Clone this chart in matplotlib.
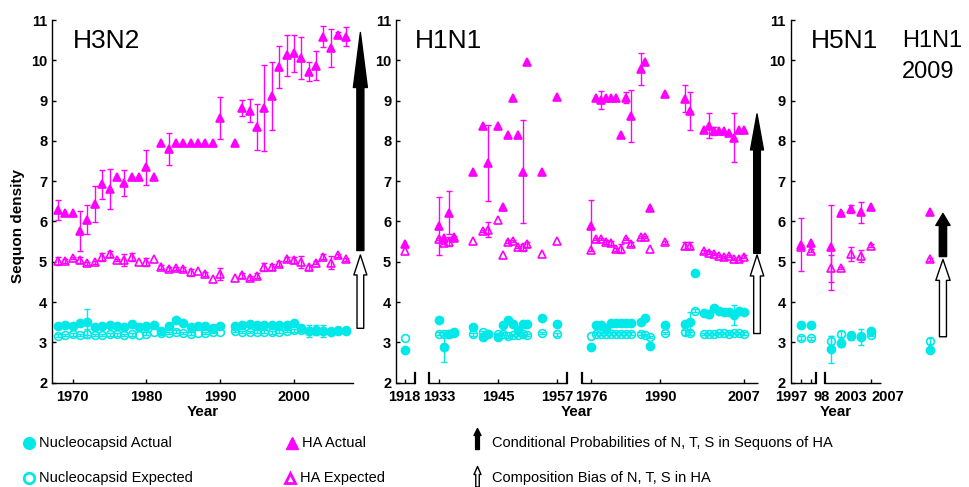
import numpy as np
import matplotlib
matplotlib.use('Agg')
import matplotlib.pyplot as plt
from matplotlib.patches import FancyArrowPatch, ArrowStyle

plt.rcParams['font.family'] = ['Liberation Sans', 'DejaVu Sans']

CYAN = '#00E8E8'
MAGENTA = '#FF00FF'

# ---------------- H3N2 ----------------
h3_years = [1968, 1969, 1970, 1971, 1972, 1973, 1974, 1975, 1976, 1977, 1978, 1979,
            1980, 1981, 1982, 1983, 1984, 1985, 1986, 1987, 1988, 1989, 1990,
            1992, 1993, 1994, 1995, 1996, 1997, 1998, 1999, 2000, 2001, 2002, 2003,
            2004, 2005, 2006, 2007]
h3_ha_act = [6.28, 6.20, 6.20, 5.76, 6.04, 6.43, 6.93, 6.80, 7.10, 6.96, 7.10, 7.10,
             7.34, 7.10, 7.96, 7.80, 7.96, 7.96, 7.96, 7.96, 7.96, 7.96, 8.56,
             7.96, 8.81, 8.75, 8.35, 8.82, 9.12, 9.84, 10.13, 10.17, 10.05, 9.72, 9.87,
             10.59, 10.30, 10.64, 10.59]
h3_ha_act_err = [0.25, 0, 0, 0.50, 0.36, 0.45, 0.36, 0.50, 0, 0.33, 0, 0,
                 0.44, 0, 0, 0.40, 0, 0, 0, 0, 0, 0, 0.52,
                 0, 0.20, 0.29, 0.57, 1.07, 0.85, 0.52, 0.51, 0.47, 0.52, 0.24, 0.36,
                 0.26, 0.47, 0.05, 0.24]
h3_ha_exp = [5.02, 5.02, 5.10, 5.04, 4.96, 4.99, 5.13, 5.19, 5.04, 5.04, 5.13, 4.99,
             5.00, 5.06, 4.88, 4.82, 4.84, 4.81, 4.74, 4.76, 4.70, 4.58, 4.70,
             4.59, 4.67, 4.61, 4.66, 4.88, 4.87, 4.95, 5.06, 5.04, 5.00, 4.86, 4.98,
             5.13, 4.98, 5.16, 5.06]
h3_ha_exp_err = [0.10, 0.05, 0.03, 0.08, 0.04, 0.04, 0.10, 0.08, 0.03, 0.15, 0.10, 0,
                 0.10, 0, 0.05, 0.05, 0.04, 0.05, 0.08, 0, 0.04, 0, 0.15,
                 0, 0.06, 0.05, 0.06, 0.10, 0.08, 0.06, 0.05, 0.08, 0.15, 0.06, 0.04,
                 0.06, 0.17, 0.04, 0.03]
h3_nuc_act = [3.41, 3.43, 3.41, 3.47, 3.51, 3.39, 3.41, 3.42, 3.41, 3.37, 3.46, 3.37,
              3.41, 3.42, 3.29, 3.41, 3.56, 3.47, 3.39, 3.41, 3.41, 3.35, 3.41,
              3.41, 3.42, 3.45, 3.43, 3.42, 3.43, 3.42, 3.42, 3.49, 3.35, 3.28, 3.31,
              3.29, 3.27, 3.29, 3.28]
h3_nuc_act_err = [0.05, 0.03, 0.03, 0.04, 0.33, 0.03, 0.03, 0.03, 0.03, 0.06, 0.03, 0.03,
                  0.03, 0.03, 0.03, 0.03, 0.03, 0.03, 0.03, 0.03, 0.03, 0.03, 0.03,
                  0.03, 0.03, 0.03, 0.03, 0.03, 0.03, 0.03, 0.03, 0.03, 0.06, 0.15, 0.12,
                  0.15, 0.03, 0.03, 0.04]
h3_nuc_exp = [3.17, 3.18, 3.20, 3.19, 3.22, 3.18, 3.18, 3.20, 3.20, 3.18, 3.20, 3.18,
              3.22, 3.25, 3.24, 3.23, 3.27, 3.24, 3.22, 3.24, 3.24, 3.26, 3.25,
              3.28, 3.26, 3.26, 3.27, 3.27, 3.25, 3.27, 3.28, 3.30, 3.30, 3.29, 3.28,
              3.29, 3.28, 3.30, 3.30]
h3_nuc_exp_err = [0.03, 0.03, 0.03, 0.03, 0.12, 0.03, 0.03, 0.03, 0.03, 0.03, 0.03, 0,
                  0.03, 0, 0.03, 0.03, 0.03, 0.03, 0.03, 0, 0.03, 0.03, 0,
                  0.03, 0.03, 0.03, 0.03, 0.03, 0.03, 0.03, 0.03, 0.03, 0.03, 0.03, 0.03,
                  0.03, 0.03, 0.03, 0.03]

# ---------------- H1N1 ----------------
h1_years = [1918, 1933, 1934, 1935, 1936, 1940, 1942, 1943, 1945, 1946, 1947, 1948,
            1949, 1950, 1951, 1954, 1957,
            1976, 1977, 1978, 1979, 1980, 1981, 1982, 1983, 1984, 1986, 1987, 1988,
            1991, 1995, 1996, 1997, 1999, 2000, 2001, 2002, 2003, 2004, 2005, 2006, 2007]
nan = np.nan
h1_ha_act = [5.43, 5.89, 5.60, 6.22, 5.62, 7.24, 8.38, 7.46, 8.38, 6.35, 8.15, 9.06,
             8.15, 7.24, 9.95, 7.24, 9.08,
             5.90, 9.06, 9.02, 9.06, 9.06, 9.06, 8.15, 9.07, 8.62, 9.78, 9.96, 6.33,
             9.16, 9.05, 8.74, nan, 8.27, 8.38, 8.24, 8.25, 8.25, 8.19, 8.08, 8.27, 8.26]
h1_ha_act_err = [0, 0.73, 0, 0.54, 0, 0, 0, 0.94, 0, 0, 0, 0,
                 0, 1.27, 0, 0, 0,
                 0.63, 0, 0.22, 0, 0, 0, 0, 0.14, 0.65, 0.40, 0, 0,
                 0, 0.33, 0.47, 0, 0, 0.30, 0.10, 0, 0, 0, 0.60, 0, 0]
h1_ha_exp = [5.28, 5.57, 5.46, 5.50, 5.60, 5.52, 5.77, 5.80, 6.03, 5.17, 5.50, 5.52,
             5.37, 5.36, 5.43, 5.20, 5.52,
             5.29, 5.56, 5.56, 5.50, 5.47, 5.31, 5.33, 5.56, 5.44, 5.61, 5.61, 5.31,
             5.48, 5.40, 5.40, nan, 5.26, 5.23, 5.19, 5.15, 5.12, 5.15, 5.07, 5.08, 5.13]
h1_ha_exp_err = [0, 0.03, 0.03, 0.12, 0.03, 0, 0.03, 0.18, 0, 0, 0.03, 0.03,
                 0.03, 0.08, 0.06, 0, 0,
                 0, 0.03, 0.03, 0.05, 0.05, 0.03, 0.10, 0.03, 0.05, 0.03, 0.03, 0,
                 0.03, 0.08, 0.08, 0, 0.03, 0.03, 0.03, 0.03, 0.03, 0.03, 0.03, 0.03, 0.03]
h1_nuc_act = [2.81, 3.56, 2.89, 3.22, 3.26, 3.39, 3.14, 3.22, 3.14, 3.42, 3.56, 3.46,
              3.30, 3.46, 3.46, 3.60, 3.46,
              2.88, 3.43, 3.43, 3.35, 3.47, 3.47, 3.47, 3.47, 3.47, 3.51, 3.61, 2.92,
              3.42, 3.45, 3.50, 4.73, 3.72, 3.70, 3.85, 3.77, 3.75, 3.75, 3.69, 3.77, 3.75]
h1_nuc_act_err = [0, 0, 0.37, 0, 0, 0, 0, 0, 0, 0, 0, 0,
                  0, 0, 0, 0, 0,
                  0, 0, 0, 0, 0, 0, 0, 0, 0, 0, 0, 0,
                  0, 0, 0.25, 0, 0, 0.10, 0, 0, 0, 0, 0.25, 0, 0]
h1_nuc_exp = [3.12, 3.22, 3.22, 3.22, 3.24, 3.20, 3.26, 3.22, 3.20, 3.22, 3.15, 3.19,
              3.19, 3.22, 3.19, 3.24, 3.20,
              3.16, 3.22, 3.22, 3.21, 3.22, 3.22, 3.22, 3.22, 3.22, 3.22, 3.18, 3.13,
              3.24, 3.25, 3.24, 3.79, 3.21, 3.21, 3.21, 3.23, 3.23, 3.22, 3.23, 3.23, 3.22]
h1_nuc_exp_err = [0, 0.03, 0.03, 0.03, 0.03, 0.03, 0.03, 0.03, 0.03, 0.03, 0.03, 0.03,
                  0.03, 0.03, 0.03, 0.03, 0.03,
                  0, 0.03, 0.03, 0.03, 0.03, 0.03, 0.03, 0.03, 0.03, 0.03, 0.03, 0.03,
                  0.03, 0.06, 0.06, 0.03, 0.03, 0.03, 0.03, 0.03, 0.03, 0.03, 0.03, 0.03, 0.03]

# ---------------- H5N1 ----------------
h5_years = [1997, 1998, 2003, 2004, 2005, 2006, 2007]
h5_ha_act = [5.42, 5.47, 5.36, 6.20, 6.30, 6.23, 6.37]
h5_ha_act_err = [0.66, 0, 1.05, 0.03, 0.10, 0.26, 0]
h5_ha_exp = [5.36, 5.28, 4.84, 4.84, 5.19, 5.14, 5.40]
h5_ha_exp_err = [0.05, 0.03, 0.33, 0.03, 0.18, 0.15, 0.04]
h5_nuc_act = [3.43, 3.43, 2.83, 2.98, 3.16, 3.14, 3.29]
h5_nuc_act_err = [0.08, 0.03, 0.33, 0.10, 0.10, 0.20, 0.03]
h5_nuc_exp = [3.10, 3.10, 3.04, 3.21, 3.18, 3.17, 3.19]
h5_nuc_exp_err = [0.05, 0.03, 0.12, 0.08, 0.03, 0.03, 0.03]

# ---------------- H1N1 2009 ----------------
p09_years = [2009]
p09_ha_act = [6.23]
p09_ha_exp = [5.06]
p09_nuc_act = [2.81]
p09_nuc_exp = [3.03]
p09_nuc_exp_err = [0.08]

# arrows: (black start, black end, white start, white end)
arrow_h3 = (5.28, 10.69, 3.35, 5.17)
arrow_h1 = (5.21, 8.67, 3.22, 5.17)
arrow_09 = (5.13, 6.20, 3.14, 5.06)

h3_ticks = [1970, 1980, 1990, 2000]
h1_ticks = [1918, 1933, 1945, 1957, 1976, 1990, 2007]
h5_tick_labels = ['1997', '98', '2003', '2007']

# broken-axis scales
H1_YEAR_KNOTS = [1800, 1920.1, 1931.0, 1959.0, 1974.1, 2200]
H1_POS_KNOTS = [1808, 1928.1, 1931.0, 1959.0, 1962.1, 2188]
H5_YEAR_KNOTS = [1900, 1997, 1998, 2003, 2007, 2100]
H5_POS_KNOTS = [-97, 0, 1, 3, 7, 100]


def h1_fwd(x):
    return np.interp(x, H1_YEAR_KNOTS, H1_POS_KNOTS)


def h1_inv(x):
    return np.interp(x, H1_POS_KNOTS, H1_YEAR_KNOTS)


def h5_fwd(x):
    return np.interp(x, H5_YEAR_KNOTS, H5_POS_KNOTS)


def h5_inv(x):
    return np.interp(x, H5_POS_KNOTS, H5_YEAR_KNOTS)


W, H = 970, 487
fig = plt.figure(figsize=(9.7, 4.87), dpi=100)

AX_BOTTOM = (H - 382.7) / H
AX_HEIGHT = (382.7 - 20) / H


def make_axes(left_px, right_px):
    return fig.add_axes([left_px / W, AX_BOTTOM, (right_px - left_px) / W, AX_HEIGHT])


def style(ax, hide_bottom=False):
    for s in ['top', 'right']:
        ax.spines[s].set_visible(False)
    if hide_bottom:
        ax.spines['bottom'].set_visible(False)
    for s in ['left', 'bottom']:
        ax.spines[s].set_linewidth(1.0)
    ax.set_ylim(2, 11)
    ax.set_yticks(range(2, 12))
    ax.tick_params(direction='in', length=3, width=1, labelsize=10.5)
    ax.tick_params(axis='y', pad=3.5)
    ax.tick_params(axis='x', pad=5)
    ax.minorticks_off()
    ax.patch.set_alpha(0)
    plt.setp(ax.get_yticklabels(), fontweight='bold')


def series(ax, x, y, err, marker, filled, color, ms=5.6):
    x = np.asarray(x, float)
    y = np.asarray(y, float)
    err = np.asarray(err, float)
    m = (err > 0) & ~np.isnan(y)
    if m.any():
        ax.errorbar(x[m], y[m], yerr=err[m], fmt='none', ecolor=color,
                    elinewidth=1.0, capsize=2.2, capthick=1.0, zorder=2)
    ax.plot(x, y, ls='none', marker=marker, ms=ms,
            mfc=color if filled else 'none', mec=color, mew=1.2, zorder=3)


def draw_group(ax, years, nuc_exp, nuc_exp_err, nuc_act, nuc_act_err,
               ha_exp, ha_exp_err, ha_act, ha_act_err):
    series(ax, years, nuc_exp, nuc_exp_err, 'o', False, CYAN, 5.6)
    series(ax, years, nuc_act, nuc_act_err, 'o', True, CYAN, 5.8)
    series(ax, years, ha_exp, ha_exp_err, '^', False, MAGENTA, 5.6)
    series(ax, years, ha_act, ha_act_err, '^', True, MAGENTA, 5.8)


def px2pt(v):
    return v * 72.0 / 100.0


def arrow(ax, x, y0, y1, face, hl, hw, tw):
    st = ArrowStyle.Simple(head_length=px2pt(hl), head_width=px2pt(hw),
                           tail_width=px2pt(tw))
    p = FancyArrowPatch((x, y0), (x, y1), arrowstyle=st, mutation_scale=1,
                        fc=face, ec='black', lw=1.0, shrinkA=0, shrinkB=0,
                        clip_on=False, zorder=4)
    ax.add_patch(p)


def broken_bottom(ax, segments, marks):
    tr = ax.get_xaxis_transform()
    for a, b in segments:
        ax.plot([a, b], [0, 0], color='black', lw=1.0, transform=tr,
                clip_on=False, solid_capstyle='butt', zorder=5)
    for m in marks:
        ax.plot([m, m], [0, 0.026], color='black', lw=1.6, transform=tr,
                clip_on=False, zorder=5)


def year_label(ax):
    ax.text(0.5, -0.081, 'Year', transform=ax.transAxes, ha='center', va='center',
            fontsize=11, fontweight='bold')


# ---- H3N2 panel
ax1 = make_axes(52, 353)
ax1.set_xlim(1967.2, 2008.0)
style(ax1)
ax1.set_xticks(h3_ticks)
plt.setp(ax1.get_xticklabels(), fontweight='bold')
draw_group(ax1, h3_years, h3_nuc_exp, h3_nuc_exp_err, h3_nuc_act, h3_nuc_act_err,
           h3_ha_exp, h3_ha_exp_err, h3_ha_act, h3_ha_act_err)
arrow(ax1, 2009.0, arrow_h3[0], arrow_h3[1], 'black', 55, 14, 7)
arrow(ax1, 2009.0, arrow_h3[2], arrow_h3[3], 'white', 20, 13, 6.7)
ax1.text(0.07, 0.942, 'H3N2', transform=ax1.transAxes, fontsize=19, va='center')
year_label(ax1)

# ---- H1N1 panel
ax2 = make_axes(396, 758)
ax2.set_xscale('function', functions=(h1_fwd, h1_inv))
ax2.set_xlim(1916.26, 2009.9)
style(ax2, hide_bottom=True)
ax2.set_xticks(h1_ticks)
ax2.set_xticklabels([str(t) for t in h1_ticks])
ax2.minorticks_off()
plt.setp(ax2.get_xticklabels(), fontweight='bold')
draw_group(ax2, h1_years, h1_nuc_exp, h1_nuc_exp_err, h1_nuc_act, h1_nuc_act_err,
           h1_ha_exp, h1_ha_exp_err, h1_ha_act, h1_ha_act_err)
arrow(ax2, 2009.7, arrow_h1[0], arrow_h1[1], 'black', 36, 13, 6.7)
arrow(ax2, 2009.7, arrow_h1[2], arrow_h1[3], 'white', 21, 13.5, 6.7)
broken_bottom(ax2, [(1916.26, 1920.1), (1931.0, 1959.0), (1974.1, 2009.9)],
              [1920.1, 1931.0, 1959.0, 1974.1])
ax2.text(0.0525, 0.942, 'H1N1', transform=ax2.transAxes, fontsize=19, va='center')
year_label(ax2)

# ---- H5N1 panel
ax3 = make_axes(790.7, 880.7)
ax3.set_xscale('function', functions=(h5_fwd, h5_inv))
ax3.set_xlim(1996, 2008)
style(ax3, hide_bottom=True)
ax3.set_xticks([1997, 1998, 2007])
ax3.set_xticklabels(['', '', ''])
ax3.minorticks_off()
draw_group(ax3, h5_years, h5_nuc_exp, h5_nuc_exp_err, h5_nuc_act, h5_nuc_act_err,
           h5_ha_exp, h5_ha_exp_err, h5_ha_act, h5_ha_act_err)
broken_bottom(ax3, [(1996, 1999.25), (2001.575, 2008)], [1999.25, 2001.575])
for lab, xf in zip(h5_tick_labels, [0.009, 0.344, 0.664, 1.078]):
    ax3.text(xf, -0.039, lab, transform=ax3.transAxes, ha='center', va='center',
             fontsize=10.5, fontweight='bold')
ax3.text(0.222, 0.942, 'H5N1', transform=ax3.transAxes, fontsize=19, va='center')
year_label(ax3)

# ---- H1N1 2009 group
ax4 = make_axes(895, 965)
ax4.set_xlim(2008, 2010)
ax4.set_ylim(2, 11)
ax4.axis('off')
series(ax4, p09_years, p09_nuc_exp, p09_nuc_exp_err, 'o', False, CYAN, 5.6)
series(ax4, p09_years, p09_nuc_act, [0], 'o', True, CYAN, 5.8)
series(ax4, p09_years, p09_ha_exp, [0.03], '^', False, MAGENTA, 5.6)
series(ax4, p09_years, p09_ha_act, [0], '^', True, MAGENTA, 5.8)
arrow(ax4, 2009.37, arrow_09[0], arrow_09[1], 'black', 12, 14.3, 7.3)
arrow(ax4, 2009.37, arrow_09[2], arrow_09[3], 'white', 21, 14.3, 7)
fig.text(901.7 / W, (H - 41) / H, 'H1N1', fontsize=17, va='center', ha='left')
fig.text(901.7 / W, (H - 72) / H, '2009', fontsize=17, va='center', ha='left')

# y label
fig.text(18 / W, (H - 226) / H, 'Sequon density', rotation=90, ha='center',
         va='center', fontsize=11, fontweight='bold')

# ---- legend (manual, in pixel coordinates)
lg = fig.add_axes([0, 0, 1, 1])
lg.set_xlim(0, W)
lg.set_ylim(H, 0)
lg.axis('off')
r1, r2 = 442.7, 478.0
lg.plot([29], [r1], 'o', ms=8.4, mfc=CYAN, mec=CYAN)
lg.plot([29], [r2], 'o', ms=7.6, mfc='none', mec=CYAN, mew=2.0)
lg.plot([291.7], [r1], '^', ms=8.4, mfc=MAGENTA, mec=MAGENTA)
lg.plot([290.5], [r2], '^', ms=7.8, mfc='none', mec=MAGENTA, mew=2.0)
for xx, yy, s in [(39.3, r1, 'Nucleocapsid Actual'), (39.3, r2, 'Nucleocapsid Expected'),
                  (301.7, r1, 'HA Actual'), (300.0, r2, 'HA Expected'),
                  (491.7, r1, 'Conditional Probabilities of N, T, S in Sequons of HA'),
                  (492.3, r2, 'Composition Bias of N, T, S in HA')]:
    lg.text(xx, yy, s, fontsize=10.5, ha='left', va='center')
arrow(lg, 477.5, 449.5, 428.5, 'black', 7, 7, 3.8)
arrow(lg, 477.5, 487, 466.5, 'white', 8, 7, 3.5)

fig.savefig('out.png', dpi=100)
